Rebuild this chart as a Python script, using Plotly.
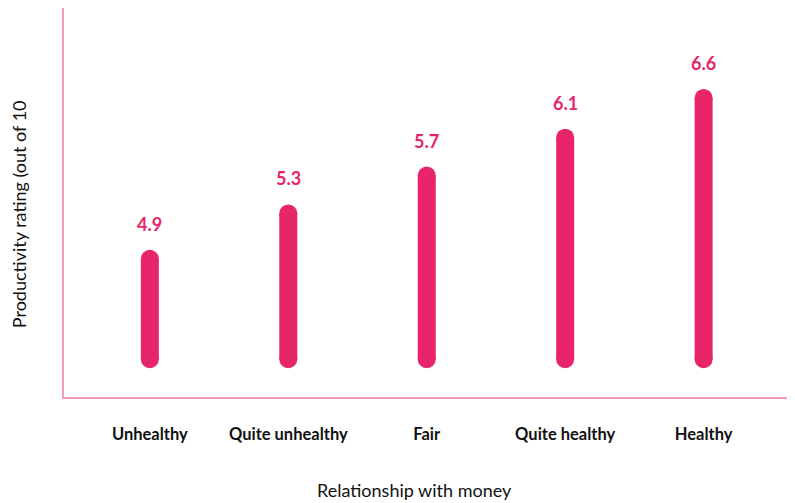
import plotly.graph_objects as go

# Daten
categories = ["Unhealthy", "Quite unhealthy", "Fair", "Quite healthy", "Healthy"]
ratings = [4.86, 5.34, 5.74, 6.14, 6.56]
base = 3.8

bar_color = "#E8246A"
axis_color = "#F29DBE"

# Lollipop-artige Balken mit runden Enden (Linie + Marker an beiden Enden)
xs, ys = [], []
for i, v in enumerate(ratings):
    xs += [i, i, None]
    ys += [base, v, None]

fig = go.Figure()
fig.add_trace(go.Scatter(
    x=xs, y=ys,
    mode="lines+markers",
    line=dict(color=bar_color, width=18),
    marker=dict(color=bar_color, size=18),
    hoverinfo="skip",
    showlegend=False,
))

# Wertelabels
for i, v in enumerate(ratings):
    fig.add_annotation(
        x=i, y=v, text=f"{v:.1f}",
        showarrow=False, yshift=35,
        font=dict(family="Lato", size=18, color=bar_color, weight="bold"),
    )

# Achsentitel
fig.add_annotation(
    xref="paper", yref="paper", x=0.5, y=0, xshift=-15, yshift=-106,
    text="Relationship with money", showarrow=False,
    font=dict(family="Lato", size=18, color="#111111"),
)
fig.add_annotation(
    xref="paper", yref="paper", x=0, y=0.47, xshift=-58,
    text="Productivity rating (out of 10", textangle=-90, showarrow=False,
    font=dict(family="Lato", size=18, color="#111111"),
)

# Seite hat 8px body-margin -> Figur etwas kleiner
fig.update_layout(
    width=787, height=495,
    margin=dict(l=56, r=0, t=0, b=106),
    plot_bgcolor="white",
    paper_bgcolor="white",
    xaxis=dict(
        tickmode="array",
        tickvals=list(range(len(categories))),
        ticktext=categories,
        range=[-0.62, 4.66],
        showgrid=False, zeroline=False,
        showline=True, linecolor=axis_color, linewidth=2,
        ticks="", ticklabelstandoff=21,
        tickfont=dict(family="Lato", size=16.5, color="#111111", weight="bold"),
    ),
    yaxis=dict(
        range=[3.4, 7.51],
        showgrid=False, zeroline=False,
        showline=True, linecolor=axis_color, linewidth=2,
        showticklabels=False, ticks="",
    ),
)

fig.write_html("out.html")
